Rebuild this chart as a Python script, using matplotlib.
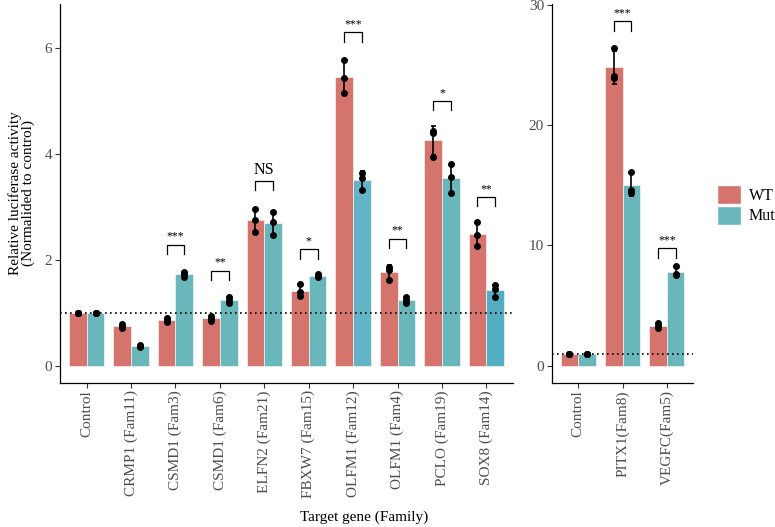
import numpy as np
import matplotlib
matplotlib.use("Agg")
from matplotlib import pyplot as plt
from matplotlib.patches import Patch

plt.rcParams['font.family'] = ['Liberation Serif', 'DejaVu Serif']

# left panel data: three replicates per gene for WT and Mut
genes_left = ['Control', 'CRMP1 (Fam11)', 'CSMD1 (Fam3)', 'CSMD1 (Fam6)', 'ELFN2 (Fam21)',
              'FBXW7 (Fam15)', 'OLFM1 (Fam12)', 'OLFM1 (Fam4)', 'PCLO (Fam19)', 'SOX8 (Fam14)']
wt_left = [[1.0, 1.0, 1.0], [0.79, 0.76, 0.72], [0.91, 0.87, 0.83], [0.95, 0.90, 0.84],
           [2.96, 2.75, 2.53], [1.54, 1.40, 1.33], [5.77, 5.43, 5.15], [1.87, 1.81, 1.62],
           [4.43, 4.39, 3.95], [2.72, 2.47, 2.26]]
mut_left = [[1.0, 1.0, 1.0], [0.40, 0.37, 0.35], [1.78, 1.74, 1.67], [1.30, 1.24, 1.18],
            [2.91, 2.72, 2.47], [1.73, 1.70, 1.67], [3.65, 3.55, 3.33], [1.30, 1.25, 1.18],
            [3.82, 3.57, 3.26], [1.53, 1.45, 1.31]]
sig_left = ['', '', '***', '**', 'NS', '*', '***', '**', '*', '**']
bracket_left = [None, None, 2.29, 1.80, 3.50, 2.20, 6.30, 2.40, 5.00, 3.19]

# right panel data
genes_right = ['Control', 'PITX1(Fam8)', 'VEGFC(Fam5)']
wt_right = [[1.0, 1.0, 1.0], [26.4, 24.1, 23.95], [3.53, 3.3, 3.1]]
mut_right = [[1.0, 1.0, 1.0], [16.1, 14.6, 14.4], [8.33, 7.6, 7.55]]
sig_right = ['', '***', '***']
bracket_right = [None, 28.67, 9.78]

wt_color = '#D5736D'
mut_color = '#6AB7BB'
mut_colors_left = [mut_color] * 6 + ['#64B4C8', mut_color, mut_color, '#52AEC0']
tick_grey = '#4D4D4D'


def draw_panel(ax, genes, wt, mut, sig, brackets, ylim, yticks, mut_cols):
    x = np.arange(1, len(genes) + 1)
    wt = np.array(wt)
    mut = np.array(mut)
    for vals, off, cols in [(wt, -0.2, [wt_color] * len(genes)), (mut, 0.2, mut_cols)]:
        means = vals.mean(axis=1)
        sds = vals.std(axis=1, ddof=1)
        ax.bar(x + off, means, width=0.4, color=cols, edgecolor='white', linewidth=0.4, zorder=1)
        ax.errorbar(x + off, means, yerr=sds, fmt='none', ecolor='black',
                    elinewidth=1.2, capsize=1.8, capthick=1.2, zorder=3)
        for i in range(len(genes)):
            ax.plot(np.full(3, x[i] + off), vals[i], 'o', color='black', ms=4, zorder=4)
    ax.axhline(1, color='black', linestyle=(0, (1, 2)), linewidth=1.2, zorder=2)

    leg = 0.025 * (ylim[1] - ylim[0])
    for i in range(len(genes)):
        if brackets[i] is None:
            continue
        top = brackets[i]
        ax.plot([x[i] - 0.2, x[i] - 0.2, x[i] + 0.2, x[i] + 0.2],
                [top - leg, top, top, top - leg], color='black', linewidth=0.9, zorder=3)
        fs = 11.5 if sig[i] == 'NS' else 8.5
        ax.annotate(sig[i], (x[i], top), xytext=(0, 1.5), textcoords='offset points',
                    ha='center', va='bottom', fontsize=fs)

    ax.set_xlim(0.4, len(genes) + 0.6)
    ax.set_ylim(*ylim)
    ax.set_yticks(yticks)
    ax.set_xticks(x)
    ax.set_xticklabels(genes, rotation=90)
    ax.tick_params(axis='both', colors='#333333', labelcolor=tick_grey, labelsize=11,
                   length=3.5, width=0.8, pad=2)
    for s in ['top', 'right']:
        ax.spines[s].set_visible(False)
    for s in ['left', 'bottom']:
        ax.spines[s].set_linewidth(0.9)


fig = plt.figure(figsize=(7.75, 5.27), dpi=100)
ax1 = fig.add_axes([0.0774, 0.2738, 0.5845, 0.7186])
ax2 = fig.add_axes([0.7119, 0.2738, 0.1827, 0.7186])

draw_panel(ax1, genes_left, wt_left, mut_left, sig_left, bracket_left,
           (-0.315, 6.83), [0, 2, 4, 6], mut_colors_left)
draw_panel(ax2, genes_right, wt_right, mut_right, sig_right, bracket_right,
           (-1.42, 30.1), [0, 10, 20, 30], [mut_color] * 3)

ax1.set_ylabel('Relative luciferase activity\n(Normalided to control)', fontsize=11,
               linespacing=1.0, labelpad=7)
fig.text(364 / 775, 1 - 517 / 527, 'Target gene (Family)', ha='center', va='center', fontsize=11)

handles = [Patch(facecolor=wt_color, edgecolor='white'), Patch(facecolor=mut_color, edgecolor='white')]
fig.legend(handles, ['WT', 'Mut'], loc='center left', bbox_to_anchor=(717 / 775, 1 - 204.7 / 527),
           frameon=False, fontsize=11.5, handlelength=1.5, handleheight=1.45,
           handletextpad=0.5, labelspacing=0.12, borderpad=0, borderaxespad=0)

plt.savefig('out.png', dpi=100)
